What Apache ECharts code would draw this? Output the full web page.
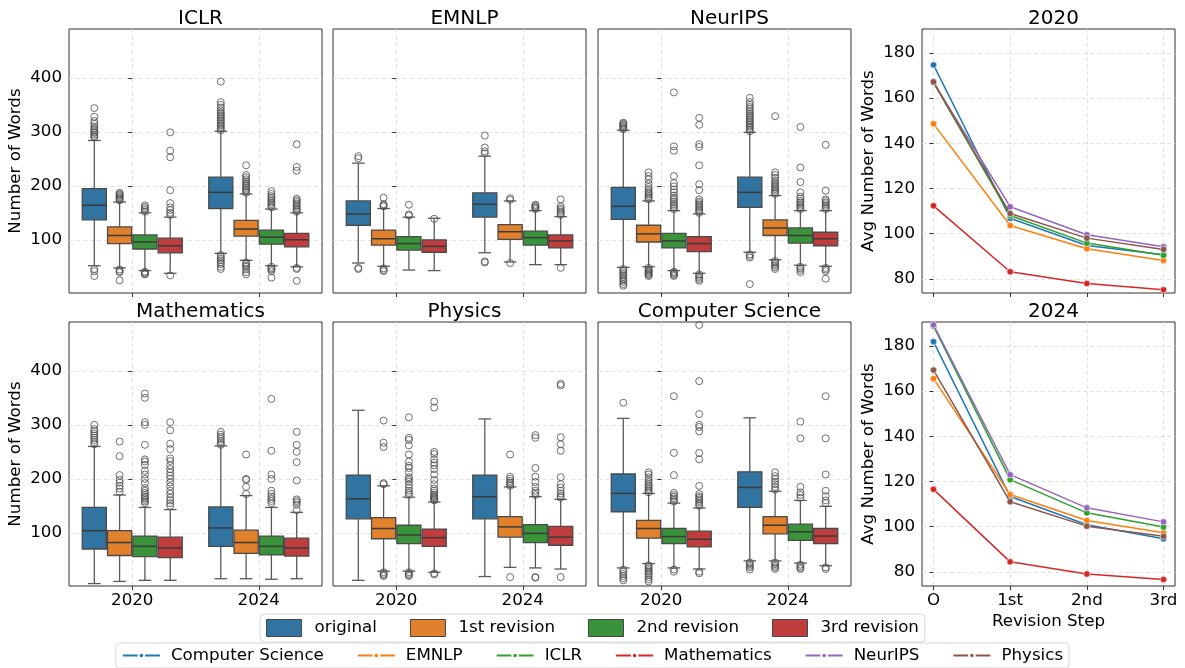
<!DOCTYPE html>
<html>
<head>
<meta charset="utf-8">
<script src="https://cdn.jsdelivr.net/npm/echarts@6/dist/echarts.min.js"></script>
<style>
html,body{margin:0;padding:0;background:#fff;}
#chart{width:1185px;height:668px;}
</style>
</head>
<body>
<div id="chart"></div>
<script>
// ---------------- DATA ----------------
const hueNames = ['original', '1st revision', '2nd revision', '3rd revision'];
const yearLabels = ['2020', '2024'];
const boxTitles = ['ICLR', 'EMNLP', 'NeurIPS', 'Mathematics', 'Physics', 'Computer Science'];
const boxTicks = [100, 200, 300, 400];

// [year][hue] = [lowerWhisker, q1, median, q3, upperWhisker]
const statsICLR = [
  [[52,137,164,195,284],[48,93,108,124,170],[43,83,96,109,150],[38,76,89,103,142]],
  [[75,158,188,216,301],[62,107,120,136,185],[52,92,105,118,157],[50,87,100,112,150]]
];
const statsEMNLP = [
  [[57,127,148,172,242],[51,90,102,118,158],[44,81,93,106,142],[43,77,88,100,140]],
  [[76,142,166,187,255],[59,101,115,128,172],[54,90,104,116,154],[54,85,98,109,143]]
];
const statsNeurIPS = [
  [[49,138,162,197,303],[50,96,111,127,172],[43,85,98,112,154],[38,78,93,106,148]],
  [[77,160,188,216,299],[63,108,122,137,182],[53,94,108,122,154],[51,89,102,114,154]]
];
const statsMathematics = [
  [[6,70,104,147,260],[10,58,82,104,170],[12,56,75,94,147],[12,54,72,92,143]],
  [[15,75,109,148,261],[15,62,82,105,169],[14,59,75,94,147],[15,57,72,90,138]]
];
const statsPhysics = [
  [[12,126,163,207,327],[29,89,108,128,187],[29,80,96,114,166],[27,75,91,107,157]],
  [[19,126,167,207,311],[36,92,111,130,185],[35,82,99,115,167],[33,77,92,112,162]]
];
const statsCS = [
  [[35,139,173,209,312],[43,90,108,123,173],[35,80,93,108,155],[33,74,88,103,146]],
  [[48,147,184,213,313],[48,98,114,130,177],[44,86,102,116,160],[39,80,94,108,149]]
];

// [year][hue] = outlier values
const outICLR = [
  [[290,292,295,298,300,303,306,310,315,320,328,344,46,42,33],
   [173,175,177,179,181,183,185,187,45,42,40,25],
   [152,155,158,161,164,41,39,37,36],
   [146,150,155,160,168,192,253,265,299,34]],
  [[303,306,309,312,315,318,321,324,327,330,333,336,340,345,350,355,393,72,68,65,62,58,55,50,46],
   [187,190,193,196,199,202,205,208,212,216,220,238,58,55,52,50,45,40,36],
   [160,163,166,169,172,175,178,181,185,190,50,47,45,42,30],
   [152,155,158,161,164,167,170,173,176,228,235,277,48,46,24]]
];
const outEMNLP = [
  [[251,255,48,46],[162,164,166,178,47,44,42],[145,147,165],[139]],
  [[260,264,271,293,60,58],[174,177,57],[157,159,161,163,165],[146,149,152,155,158,162,175,48]]
];
const outNeurIPS = [
  [[305,307,309,311,313,315,317,46,43,40,37,34,31,28,25,22,18,15],
   [175,178,181,184,187,190,194,198,204,212,218,225,48,45,43,41,39,37,35,33],
   [157,160,163,166,170,174,178,182,188,193,199,205,218,265,273,373,41,39,37,35,33],
   [150,153,156,159,162,165,168,171,175,192,203,238,272,277,313,326,36,33,30,27,24]],
  [[301,304,307,310,313,316,319,322,325,328,331,334,338,342,346,350,355,363,73,70,67,18],
   [185,188,191,194,197,200,203,206,210,215,220,225,329,61,58,55,52,49,46],
   [157,160,163,166,169,172,176,180,188,207,234,309,50,47,44,40],
   [157,160,163,166,169,172,175,191,276,48,45,42,28]]
];
const outMathematics = [
  [[264,268,272,276,280,284,288,292,300],
   [176,182,187,193,198,207,242,269],
   [155,158,161,164,167,170,174,178,183,192,200,208,215,226,232,236,263,300,305,350,358],
   [150,155,160,165,172,178,186,193,200,206,212,218,225,233,238,255,265,290,305]],
  [[263,266,270,274,278,282,287],
   [172,185,198,200,245],
   [155,159,163,167,172,178,200,208,252,348],
   [142,152,156,159,162,197,231,250,263,287]]
];
const outPhysics = [
  [[],
   [190,192,259,267,308,27,24,22,20],
   [170,174,178,183,189,195,199,203,212,220,224,232,245,262,272,276,314,27,24,22,20],
   [160,162,164,166,168,170,174,178,182,190,198,208,218,225,230,236,246,250,332,343,25,23]],
  [[],
   [187,190,193,196,200,204,245,18],
   [170,174,178,185,194,204,220,276,281,18,17],
   [165,169,173,178,184,190,203,252,264,277,373,376,18]]
];
const outCS = [
  [[341,32,28,24,20,16,12],
   [175,178,181,184,187,190,194,198,203,208,212,40,37,34,31,28,25,22,18,14,10],
   [158,161,164,167,170,174,207,248,353,32,28],
   [150,153,156,159,162,165,168,172,187,236,248,288,296,300,320,381,485,28,25]],
  [[45,42,39,36,32],
   [180,185,190,195,200,205,212,45,42,39,36,33],
   [165,170,175,185,275,306,41,38,35,33],
   [155,160,168,178,208,275,353,36,33]]
];

// Line charts
const steps = ['O', '1st', '2nd', '3rd'];
const lineVenues = ['Computer Science', 'EMNLP', 'ICLR', 'Mathematics', 'NeurIPS', 'Physics'];
const lineTicks = [80, 100, 120, 140, 160, 180];
const avg2020ComputerScience = [174.7, 106.8, 94.7, 90.6];
const avg2020EMNLP = [148.6, 103.6, 93.3, 88.1];
const avg2020ICLR = [166.8, 108.0, 95.8, 90.4];
const avg2020Mathematics = [112.3, 83.1, 77.9, 75.1];
const avg2020NeurIPS = [167.0, 111.9, 99.5, 94.2];
const avg2020Physics = [167.2, 108.9, 98.0, 93.0];
const avg2024ComputerScience = [181.9, 113.3, 100.8, 94.6];
const avg2024EMNLP = [165.5, 114.2, 102.7, 97.3];
const avg2024ICLR = [188.8, 120.8, 106.1, 99.8];
const avg2024Mathematics = [116.5, 84.4, 79.0, 76.6];
const avg2024NeurIPS = [189.3, 123.0, 108.3, 102.1];
const avg2024Physics = [169.3, 111.0, 100.2, 95.7];

// ---------------- STYLE / LAYOUT ----------------
const FONT = 'DejaVu Sans';
const FS = 16.7;
const hueColors = ['#3274a1', '#e1812c', '#3a923a', '#c03d3e'];
const lineColors = ['#1f77b4', '#ff7f0e', '#2ca02c', '#d62728', '#9467bd', '#8c564b'];
const hueOffsets = [-0.3, -0.1, 0.1, 0.3];
const gridPos = [[69,29],[333,29],[598,29],[69,322],[333,322],[598,322],[922,29],[922,322]];
const GW = 253, GH = 264;

const allStats = [statsICLR, statsEMNLP, statsNeurIPS, statsMathematics, statsPhysics, statsCS];
const allOut = [outICLR, outEMNLP, outNeurIPS, outMathematics, outPhysics, outCS];
const avg2020 = [avg2020ComputerScience, avg2020EMNLP, avg2020ICLR, avg2020Mathematics, avg2020NeurIPS, avg2020Physics];
const avg2024 = [avg2024ComputerScience, avg2024EMNLP, avg2024ICLR, avg2024Mathematics, avg2024NeurIPS, avg2024Physics];

const splitStyle = {show: true, lineStyle: {color: '#dadada', type: [4, 3], width: 0.8}};
const tickStyle = {lineStyle: {color: '#333', width: 1}};
const txt = {fontSize: FS, color: '#000', fontFamily: FONT};

function boxRender(color) {
  return function (params, api) {
    const x = api.value(0);
    const low = api.coord([x, api.value(1)]);
    const q1 = api.coord([x, api.value(2)]);
    const med = api.coord([x, api.value(3)]);
    const q3 = api.coord([x, api.value(4)]);
    const high = api.coord([x, api.value(5)]);
    const w = api.size([0.2, 0])[0];
    const cx = low[0];
    const hw = w / 2 - 0.6;
    const cw = w / 4;
    const ws = {stroke: '#5a5a5a', lineWidth: 1.3};
    return {
      type: 'group',
      children: [
        {type: 'line', shape: {x1: cx, y1: q3[1], x2: cx, y2: high[1]}, style: ws},
        {type: 'line', shape: {x1: cx, y1: q1[1], x2: cx, y2: low[1]}, style: ws},
        {type: 'line', shape: {x1: cx - cw, y1: high[1], x2: cx + cw, y2: high[1]}, style: ws},
        {type: 'line', shape: {x1: cx - cw, y1: low[1], x2: cx + cw, y2: low[1]}, style: ws},
        {type: 'rect', shape: {x: cx - hw, y: q3[1], width: 2 * hw, height: q1[1] - q3[1]},
          style: {fill: color, stroke: '#4a4a4a', lineWidth: 1.3}},
        {type: 'line', shape: {x1: cx - hw, y1: med[1], x2: cx + hw, y2: med[1]},
          style: {stroke: '#3a3a3a', lineWidth: 1.5}}
      ]
    };
  };
}

const grids = [], xAxes = [], yAxes = [], series = [], titles = [];

gridPos.forEach(function (p) {
  grids.push({left: p[0], top: p[1], width: GW, height: GH, show: true,
    borderColor: '#333', borderWidth: 1, backgroundColor: 'transparent', outerBoundsMode: 'none'});
});

for (let i = 0; i < 6; i++) {
  const col = i % 3, row = Math.floor(i / 3);
  const p = gridPos[i];
  titles.push({text: boxTitles[i], left: p[0] + GW / 2, top: p[1] - 25, textAlign: 'center',
    textStyle: {fontSize: 20, fontWeight: 'normal', color: '#000', fontFamily: FONT}});
  xAxes.push({
    gridIndex: i, type: 'value', min: -0.5, max: 1.5,
    axisLine: {show: false},
    axisTick: Object.assign({show: true, length: 4, customValues: [0, 1]}, tickStyle),
    axisLabel: Object.assign({show: row === 1, customValues: [0, 1],
      formatter: function (v) { return yearLabels[Math.round(v)]; }, margin: 6}, txt),
    splitLine: splitStyle
  });
  yAxes.push({
    gridIndex: i, type: 'value', min: 1.5, max: 490.5,
    axisLine: {show: false},
    axisTick: Object.assign({show: true, length: 4, customValues: boxTicks}, tickStyle),
    axisLabel: Object.assign({show: col === 0, customValues: boxTicks, margin: 7}, txt),
    splitLine: splitStyle,
    name: col === 0 ? 'Number of Words' : '', nameLocation: 'middle', nameGap: 45,
    nameTextStyle: txt
  });
  const stats = allStats[i], outs = allOut[i];
  for (let h = 0; h < 4; h++) {
    const data = [];
    for (let y = 0; y < 2; y++) {
      data.push([y + hueOffsets[h]].concat(stats[y][h]));
    }
    series.push({
      type: 'custom', name: hueNames[h], xAxisIndex: i, yAxisIndex: i,
      itemStyle: {color: hueColors[h]},
      encode: {x: 0, y: [1, 2, 3, 4, 5]},
      renderItem: boxRender(hueColors[h]), data: data, silent: true, z: 2
    });
  }
  const pts = [];
  for (let y = 0; y < 2; y++) {
    for (let h = 0; h < 4; h++) {
      outs[y][h].forEach(function (v) { pts.push([y + hueOffsets[h], v]); });
    }
  }
  series.push({
    type: 'scatter', name: 'outliers', xAxisIndex: i, yAxisIndex: i, data: pts,
    symbol: 'circle', symbolSize: 7, silent: true, z: 3,
    itemStyle: {color: 'rgba(255,255,255,0)', borderColor: '#4d4d4d', borderWidth: 1}
  });
}

[avg2020, avg2024].forEach(function (set, k) {
  const gi = 6 + k, p = gridPos[gi];
  titles.push({text: yearLabels[k], left: p[0] + GW / 2, top: p[1] - 25, textAlign: 'center',
    textStyle: {fontSize: 20, fontWeight: 'normal', color: '#000', fontFamily: FONT}});
  xAxes.push({
    gridIndex: gi, type: 'value', min: -0.15, max: 3.15,
    axisLine: {show: false},
    axisTick: Object.assign({show: true, length: 4, customValues: [0, 1, 2, 3]}, tickStyle),
    axisLabel: Object.assign({show: k === 1, customValues: [0, 1, 2, 3],
      formatter: function (v) { return steps[Math.round(v)]; }, margin: 6}, txt),
    splitLine: splitStyle,
    name: k === 1 ? 'Revision Step' : '', nameLocation: 'middle', nameGap: 27,
    nameTextStyle: txt
  });
  yAxes.push({
    gridIndex: gi, type: 'value', min: 73.7, max: 190.6,
    axisLine: {show: false},
    axisTick: Object.assign({show: true, length: 4, customValues: lineTicks}, tickStyle),
    axisLabel: Object.assign({show: true, customValues: lineTicks, margin: 7}, txt),
    splitLine: splitStyle,
    name: 'Avg Number of Words', nameLocation: 'middle', nameGap: 45,
    nameTextStyle: txt
  });
  set.forEach(function (vals, v) {
    series.push({
      type: 'line', name: lineVenues[v], xAxisIndex: gi, yAxisIndex: gi,
      data: vals.map(function (val, s) { return [s, val]; }),
      symbol: 'circle', symbolSize: 6.5, showSymbol: true,
      lineStyle: {color: lineColors[v], width: 1.5},
      itemStyle: {color: lineColors[v], borderColor: '#fff', borderWidth: 0.6},
      silent: true, z: 4 + v
    });
  });
});

const chart = echarts.init(document.getElementById('chart'), null, {renderer: 'canvas'});
chart.setOption({
  animation: false,
  backgroundColor: '#fff',
  textStyle: {fontFamily: FONT},
  title: titles,
  grid: grids,
  xAxis: xAxes,
  yAxis: yAxes,
  legend: [
    {
      data: hueNames, left: 'center', top: 614, icon: 'rect', itemWidth: 35, itemHeight: 17, itemGap: 33,
      itemStyle: {borderColor: '#444', borderWidth: 1},
      textStyle: Object.assign({padding: [0, 0, 0, 8]}, txt),
      borderColor: '#d6d6d6', borderWidth: 1, borderRadius: 4, padding: [5, 6], backgroundColor: '#fff',
      selectedMode: false
    },
    {
      data: lineVenues, left: 'center', top: 643, itemWidth: 37, itemHeight: 7, itemGap: 33,
      textStyle: Object.assign({padding: [0, 0, 0, 6]}, txt),
      borderColor: '#d6d6d6', borderWidth: 1, borderRadius: 4, padding: [4, 6], backgroundColor: '#fff',
      selectedMode: false
    }
  ],
  series: series
});
</script>
</body>
</html>
